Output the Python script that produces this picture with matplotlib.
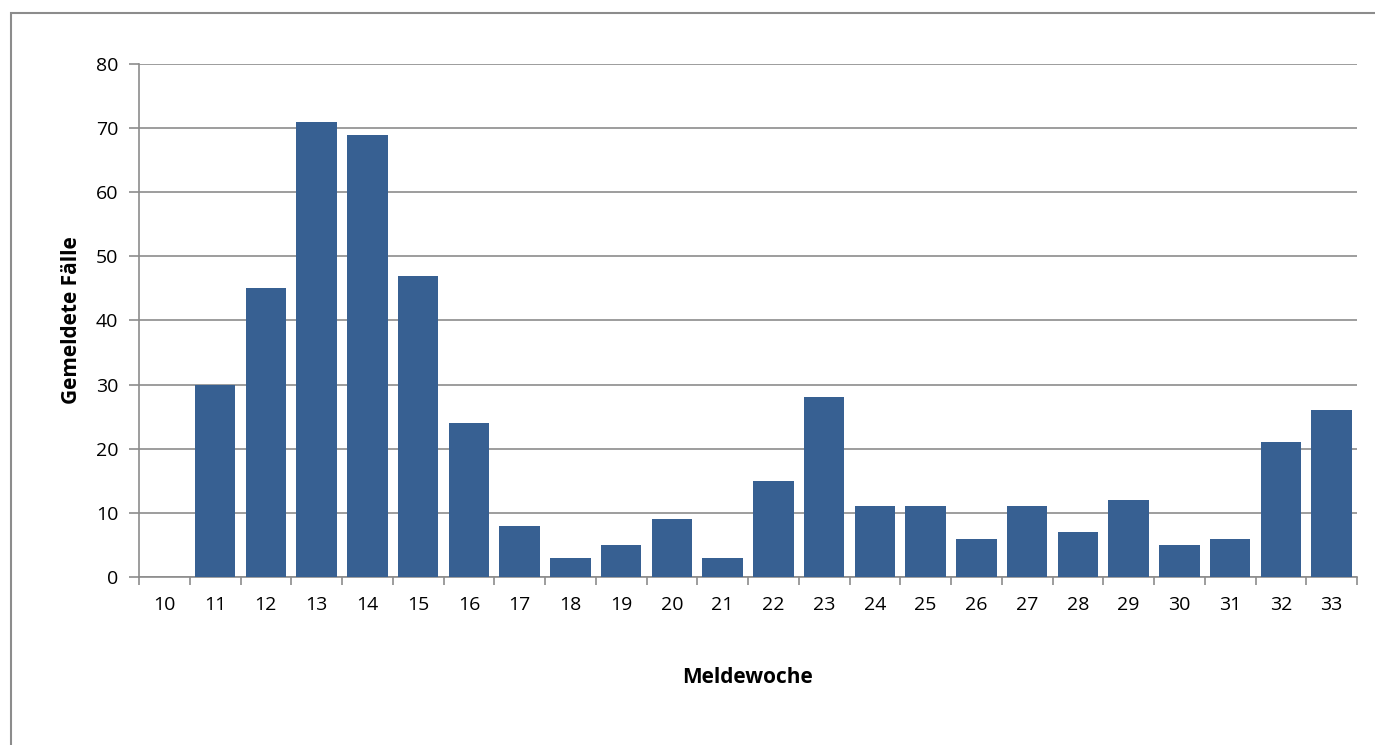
import matplotlib.pyplot as plt
from matplotlib.patches import Rectangle

# Meldewochen und gemeldete Fälle
wochen = [str(w) for w in range(10, 34)]
faelle = [0, 30, 45, 71, 69, 47, 24, 8, 3, 5, 9, 3, 15, 28, 11, 11, 6, 11, 7, 12, 5, 6, 21, 26]

plt.rcParams['font.family'] = ['Open Sans', 'DejaVu Sans']

fig = plt.figure(figsize=(13.75, 7.45), dpi=100)
ax = fig.add_axes([139 / 1375, 1 - 577 / 745, (1357 - 139) / 1375, (577 - 64) / 745])

pos = list(range(len(wochen)))
ax.bar(pos, faelle, width=0.8, color='#376092', zorder=3)

ax.set_xlim(-0.5, len(wochen) - 0.5)
ax.set_ylim(0, 80)
ax.set_yticks(range(0, 81, 10))
ax.yaxis.grid(True, color='#8c8c8c', linewidth=1.2, zorder=0)

# Striche zwischen den Kategorien, Beschriftung in der Mitte
ax.set_xticks([p - 0.5 for p in pos] + [len(wochen) - 0.5])
ax.set_xticklabels([])
ax.set_xticks(pos, minor=True)
ax.set_xticklabels(wochen, minor=True)
ax.tick_params(axis='x', which='major', length=6, width=1.2, color='#8c8c8c', direction='out')
ax.tick_params(axis='x', which='minor', length=0, pad=14, labelsize=14)
ax.tick_params(axis='y', length=7, width=1.2, color='#8c8c8c', labelsize=14, pad=8)

for s in ['top', 'right']:
    ax.spines[s].set_visible(False)
for s in ['left', 'bottom']:
    ax.spines[s].set_color('#8c8c8c')
    ax.spines[s].set_linewidth(1.2)

ax.set_ylabel('Gemeldete Fälle', fontsize=15, fontweight='bold', labelpad=10)
ax.set_xlabel('Meldewoche', fontsize=15, fontweight='bold', labelpad=38)

# Rahmen um das Diagramm
fig.patches.append(Rectangle((11 / 1375, -0.01), 1.02, 1 - 13 / 745 + 0.01,
                             transform=fig.transFigure, fill=False,
                             edgecolor='#8c8c8c', linewidth=1.5))

fig.savefig('out.png', dpi=100)
